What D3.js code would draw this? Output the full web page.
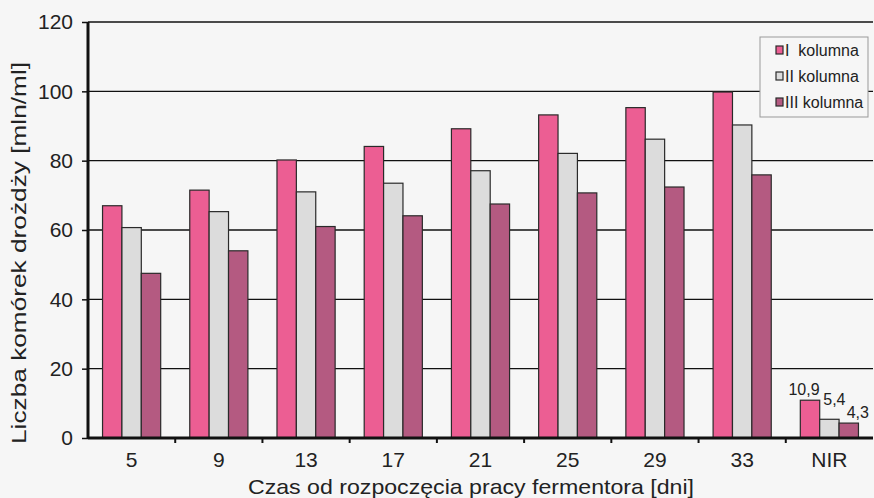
<!DOCTYPE html>
<html>
<head>
<meta charset="utf-8">
<script src="https://cdn.jsdelivr.net/npm/d3@7"></script>
<style>
  body { margin: 0; background: #f6f6f6; }
  svg { display: block; font-family: "Liberation Sans", Arial, sans-serif; }
</style>
</head>
<body>
<div id="chart"></div>
<script>
// dane
var categories = ["5", "9", "13", "17", "21", "25", "29", "33", "NIR"]
var series = ["I  kolumna", "II kolumna", "III kolumna"]
var kol1 = [67.0, 71.5, 80.2, 84.1, 89.2, 93.2, 95.3, 99.8, 10.9]
var kol2 = [60.7, 65.3, 71.0, 73.5, 77.1, 82.1, 86.2, 90.3, 5.4]
var kol3 = [47.5, 54.0, 61.0, 64.1, 67.5, 70.7, 72.4, 75.9, 4.3]
var nirLabels = ["10,9", "5,4", "4,3"]
var yTicks = [0, 20, 40, 60, 80, 100, 120]

var colors = ["#ec5e93", "#dcdcdc", "#b45a81"]

var width = 874
var height = 498
var margin = {top: 22, right: 1, bottom: 60, left: 88}

var svg = d3.select("#chart")
    .append("svg")
    .attr("width", width)
    .attr("height", height)

var innerW = width - margin.left - margin.right
var innerH = height - margin.top - margin.bottom

var g = svg.append("g")
    .attr("transform", "translate(" + margin.left + "," + margin.top + ")")

var x = d3.scaleBand()
    .domain(categories)
    .range([0, innerW])
    .paddingInner(0)
    .paddingOuter(0)

var xInner = d3.scaleBand()
    .domain([0, 1, 2])
    .range([x.bandwidth() / 6, x.bandwidth() * 5 / 6])

var y = d3.scaleLinear()
    .domain([0, 120])
    .range([innerH, 0])

// linie siatki
g.selectAll(".grid")
    .data(yTicks.slice(1))
    .enter()
    .append("line")
    .attr("x1", 0)
    .attr("x2", innerW)
    .attr("y1", function(d){ return y(d) })
    .attr("y2", function(d){ return y(d) })
    .style("stroke", "#111")
    .style("stroke-width", 1.3)

var data = []
for (var i = 0; i < categories.length; i++) {
    data.push({cat: categories[i], vals: [kol1[i], kol2[i], kol3[i]]})
}

var groups = g.selectAll(".grp")
    .data(data)
    .enter()
    .append("g")
    .attr("transform", function(d){ return "translate(" + x(d.cat) + ",0)" })

groups.selectAll("rect")
    .data(function(d){ return d.vals })
    .enter()
    .append("rect")
    .attr("x", function(d, i){ return xInner(i) })
    .attr("width", xInner.bandwidth())
    .attr("y", function(d){ return y(d) })
    .attr("height", function(d){ return innerH - y(d) })
    .attr("fill", function(d, i){ return colors[i] })
    .style("stroke", "#2a2a2a")
    .style("stroke-width", 1.2)

// etykiety NIR (przesuniecia jak w oryginale)
var nirIdx = categories.length - 1
var shiftX = [-6, 5, 9]
var shiftY = [-5, -14, -5]
g.selectAll(".nir")
    .data(nirLabels)
    .enter()
    .append("text")
    .attr("x", function(d, i){ return x("NIR") + xInner(i) + xInner.bandwidth() / 2 + shiftX[i] })
    .attr("y", function(d, i){ return y(data[nirIdx].vals[i]) + shiftY[i] })
    .attr("text-anchor", "middle")
    .style("font-size", "16px")
    .style("fill", "#222")
    .text(function(d){ return d })

// osie
var yAxis = d3.axisLeft(y).tickValues(yTicks).tickSize(6).tickPadding(9)
var yG = g.append("g").call(yAxis)
yG.select(".domain").remove()
yG.selectAll("line").style("stroke", "#111").style("stroke-width", 1.5)
yG.selectAll("text").style("font-size", "21px").style("fill", "#222")

var xAxis = d3.axisBottom(x).tickSize(0).tickPadding(14)
var xG = g.append("g").attr("transform", "translate(0," + innerH + ")").call(xAxis)
xG.select(".domain").remove()
xG.selectAll("text").style("font-size", "21px").style("fill", "#222")

// znaczniki miedzy kategoriami
g.selectAll(".xt")
    .data(categories.slice(1))
    .enter()
    .append("line")
    .attr("x1", function(d){ return x(d) })
    .attr("x2", function(d){ return x(d) })
    .attr("y1", innerH)
    .attr("y2", innerH + 5)
    .style("stroke", "#111")
    .style("stroke-width", 2)

g.append("line")
    .attr("x1", 0).attr("x2", innerW)
    .attr("y1", innerH).attr("y2", innerH)
    .style("stroke", "#111").style("stroke-width", 3)
g.append("line")
    .attr("x1", 0).attr("x2", 0)
    .attr("y1", 0).attr("y2", innerH)
    .style("stroke", "#111").style("stroke-width", 3)

// tytuly osi
svg.append("text")
    .attr("x", 471)
    .attr("y", 494)
    .attr("text-anchor", "middle")
    .attr("textLength", 446)
    .attr("lengthAdjust", "spacingAndGlyphs")
    .style("font-size", "21px")
    .style("fill", "#222")
    .text("Czas od rozpoczęcia pracy fermentora [dni]")

svg.append("text")
    .attr("transform", "translate(26,253) rotate(-90)")
    .attr("text-anchor", "middle")
    .attr("textLength", 382)
    .attr("lengthAdjust", "spacingAndGlyphs")
    .style("font-size", "21px")
    .style("fill", "#222")
    .text("Liczba komórek drożdży [mln/ml]")

// legenda
var legend = svg.append("g").attr("transform", "translate(760,37)")
legend.append("rect")
    .attr("width", 108)
    .attr("height", 80)
    .attr("fill", "#f6f6f6")
    .style("stroke", "#999")
    .style("stroke-width", 1)

var items = legend.selectAll(".li")
    .data(series)
    .enter()
    .append("g")
    .attr("transform", function(d, i){ return "translate(16," + (13 + i * 26) + ")" })

items.append("rect")
    .attr("x", 0).attr("y", -4)
    .attr("width", 7).attr("height", 8)
    .attr("fill", function(d, i){ return colors[i] })
    .style("stroke", "#2a2a2a")
    .style("stroke-width", 1.2)

items.append("text")
    .attr("x", 9)
    .attr("y", 6)
    .style("font-size", "16px")
    .style("fill", "#222")
    .attr("xml:space", "preserve")
    .style("white-space", "pre")
    .text(function(d){ return d })
</script>
</body>
</html>
